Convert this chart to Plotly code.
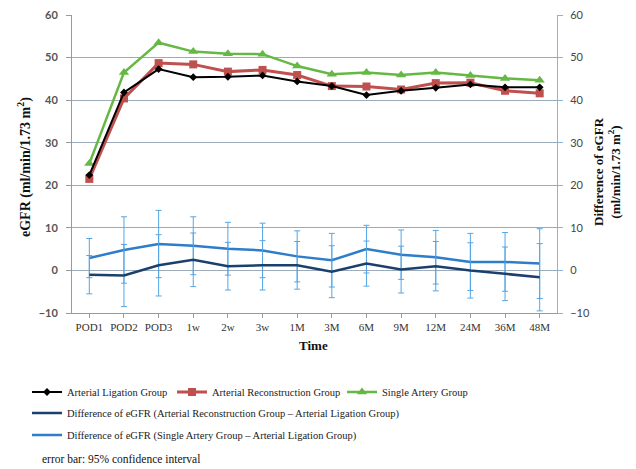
import plotly.graph_objects as go

categories = ["POD1", "POD2", "POD3", "1w", "2w", "3w", "1M", "3M", "6M", "9M", "12M", "24M", "36M", "48M"]
ligation = [22.4, 41.8, 47.3, 45.4, 45.5, 45.8, 44.4, 43.3, 41.2, 42.2, 42.9, 43.7, 43.0, 43.0]
reconstruction = [21.5, 40.4, 48.7, 48.4, 46.7, 47.1, 45.9, 43.3, 43.2, 42.5, 44.0, 44.1, 42.2, 41.6]
single_artery = [25.1, 46.5, 53.5, 51.4, 50.9, 50.8, 48.0, 46.1, 46.5, 45.9, 46.5, 45.8, 45.1, 44.7]
diff_recon = [-1.0, -1.2, 1.2, 2.5, 1.0, 1.2, 1.2, -0.3, 1.6, 0.2, 1.0, 0.0, -0.8, -1.6]
diff_recon_ci = [4.5, 7.3, 7.2, 6.3, 5.6, 5.8, 5.6, 6.1, 5.3, 5.5, 5.8, 6.5, 6.3, 7.9]
diff_single = [2.9, 4.8, 6.2, 5.8, 5.1, 4.7, 3.3, 2.4, 5.0, 3.7, 3.1, 2.0, 2.0, 1.6]
diff_single_ci = [4.6, 7.8, 7.9, 6.8, 6.2, 6.4, 6.0, 6.3, 5.6, 5.8, 6.3, 6.7, 6.9, 8.2]
y_ticks = [-10, 0, 10, 20, 30, 40, 50, 60]

SERIF = "Liberation Serif"
SANS = "Lato"
ERR_COLOR = "#55A6E4"

fig = go.Figure()

fig.add_trace(go.Scatter(
    x=categories, y=diff_single, yaxis="y2", mode="lines",
    name="Difference of eGFR (Single Artery Group \u2013 Arterial Ligation Group)",
    line=dict(color="#2E7DCB", width=2.5),
    error_y=dict(type="data", array=diff_single_ci, visible=True, color=ERR_COLOR, thickness=1, width=3),
    legend="legend5",
))
fig.add_trace(go.Scatter(
    x=categories, y=diff_recon, yaxis="y2", mode="lines",
    name="Difference of eGFR (Arterial Reconstruction Group \u2013 Arterial Ligation Group)",
    line=dict(color="#1C406D", width=2.5),
    error_y=dict(type="data", array=diff_recon_ci, visible=True, color=ERR_COLOR, thickness=1, width=3),
    legend="legend4",
))
fig.add_trace(go.Scatter(
    x=categories, y=single_artery, mode="lines+markers", name="Single Artery Group",
    line=dict(color="#66B844", width=2.5),
    marker=dict(symbol="triangle-up", size=9, color="#66B844"),
    legend="legend3",
))
fig.add_trace(go.Scatter(
    x=categories, y=reconstruction, mode="lines+markers", name="Arterial Reconstruction Group",
    line=dict(color="#C0504D", width=3),
    marker=dict(symbol="square", size=8, color="#C0504D"),
    legend="legend2",
))
fig.add_trace(go.Scatter(
    x=categories, y=ligation, mode="lines+markers", name="Arterial Ligation Group",
    line=dict(color="#000000", width=2),
    marker=dict(symbol="diamond", size=6, color="#000000"),
    legend="legend",
))

L, R, T, B = 72, 79, 15, 156
W, H = 636, 469
pw = W - L - R
ph = H - T - B


def px2x(px):
    return (px - L) / pw


def py2y(py):
    return (T + ph - py) / ph


legend_font = dict(family=SERIF, size=10.5, color="#1A1A1A")


def leg(xpx, ypx):
    return dict(x=xpx / W, y=1 - ypx / H, xref="container", yref="container",
                xanchor="left", yanchor="middle",
                bgcolor="rgba(0,0,0,0)", font=legend_font, itemwidth=30,
                orientation="v", borderwidth=0)


fig.update_layout(
    width=W, height=H,
    margin=dict(l=L, r=R, t=T, b=B, autoexpand=False),
    paper_bgcolor="white", plot_bgcolor="white",
    showlegend=True,
    legend=leg(27, 392),
    legend2=leg(172, 392),
    legend3=leg(342, 392),
    legend4=leg(27, 413),
    legend5=leg(27, 435),
    xaxis=dict(
        type="category", range=[-0.5, 13.5],
        showline=True, linecolor="#9A9A9A", linewidth=1,
        ticks="outside", ticklen=4, tickcolor="#9A9A9A",
        tickfont=dict(family=SERIF, size=11, color="#333333"),
        showgrid=False, zeroline=False,
    ),
    yaxis=dict(
        range=[-10, 60], tickvals=y_ticks,
        showline=True, linecolor="#9A9A9A", linewidth=1,
        ticks="outside", ticklen=5, tickcolor="#9A9A9A",
        tickfont=dict(family=SANS, size=11, color="#555555", weight=700),
        ticklabelstandoff=6,
        showgrid=True, gridcolor="#9DAAB8", gridwidth=1,
        zeroline=False,
    ),
    yaxis2=dict(
        range=[-10, 60], tickvals=y_ticks, overlaying="y", side="right",
        showline=True, linecolor="#86B6DA", linewidth=1,
        ticks="outside", ticklen=5, tickcolor="#86B6DA",
        tickfont=dict(family=SANS, size=11, color="#444444"),
        ticklabelstandoff=5,
        showgrid=False, zeroline=False,
    ),
    annotations=[
        dict(text="eGFR (ml/min/1.73 m<sup>2</sup>)", x=px2x(25), y=py2y(167),
             xref="paper", yref="paper", xanchor="center", yanchor="middle",
             textangle=-90, showarrow=False,
             font=dict(family=SERIF, size=14, color="#111111", weight=700)),
        dict(text="Difference of eGFR<br>(ml/min/1.73 m<sup>2</sup>)", x=px2x(607), y=py2y(172),
             xref="paper", yref="paper", xanchor="center", yanchor="middle",
             textangle=-90, showarrow=False,
             font=dict(family=SERIF, size=13, color="#111111", weight=700)),
        dict(text="Time", x=px2x(313), y=py2y(346),
             xref="paper", yref="paper", xanchor="center", yanchor="middle", showarrow=False,
             font=dict(family=SERIF, size=13, color="#111111", weight=700)),
        dict(text="error bar: 95% confidence interval", x=px2x(40), y=py2y(459),
             xref="paper", yref="paper", xanchor="left", yanchor="middle", showarrow=False,
             font=dict(family=SERIF, size=11.5, color="#111111")),
    ],
)

fig.write_html("out.html", config={"displayModeBar": False},
               post_script="document.body.style.margin='0';")
